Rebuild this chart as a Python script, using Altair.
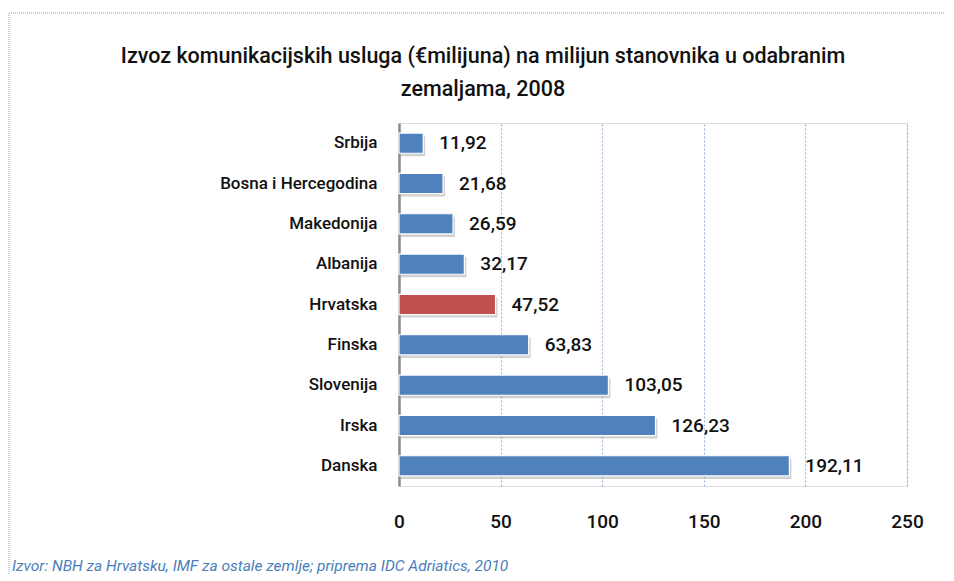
import altair as alt
import pandas as pd

countries = ["Srbija", "Bosna i Hercegodina", "Makedonija", "Albanija", "Hrvatska",
             "Finska", "Slovenija", "Irska", "Danska"]
values = [11.92, 21.68, 26.59, 32.17, 47.52, 63.83, 103.05, 126.23, 192.11]
highlight = "Hrvatska"
x_ticks = [0, 50, 100, 150, 200, 250]
title_lines = ["Izvoz komunikacijskih usluga (€milijuna) na milijun stanovnika u odabranim",
               "zemaljama, 2008"]
source_note = "Izvor: NBH za Hrvatsku,  IMF  za ostale zemlje; priprema IDC Adriatics, 2010"

FONT = "Roboto"

df = pd.DataFrame({"country": countries, "value": values})

y_enc = alt.Y("country:N", sort=countries,
              scale=alt.Scale(paddingInner=0.5, paddingOuter=0.25),
              axis=alt.Axis(title=None, labelFont=FONT, labelFontSize=17, labelColor="#111",
                            labelFontWeight=500, labelPadding=22, labelLimit=0, ticks=False,
                            domain=True, domainColor="#8a8a8a", domainWidth=2.5, grid=False))
x_enc = alt.X("value:Q", scale=alt.Scale(domain=[0, 250], nice=False),
              axis=alt.Axis(title=None, values=x_ticks, labelFont=FONT, labelFontSize=19,
                            labelFontWeight=500, labelColor="#111", labelPadding=26,
                            labelFlush=False,
                            ticks=False, domain=False, grid=True, gridColor="#9bb7dc",
                            gridDash=[2, 2], gridWidth=1.2))

base = alt.Chart(df)

shadow = base.mark_bar(color="#9a9a9a", opacity=0.45, xOffset=2, yOffset=3).encode(
    x=x_enc, y=y_enc)

bars = base.mark_bar(stroke="white", strokeWidth=1.2).encode(
    x="value:Q",
    y=alt.Y("country:N", sort=countries),
    color=alt.condition(alt.datum.country == highlight, alt.value("#C0504D"), alt.value("#4F81BD")),
)

labels = base.transform_calculate(
    lbl="replace(format(datum.value, '.2f'), '.', ',')"
).mark_text(align="left", baseline="middle", dx=16, font=FONT, fontSize=19,
            fontWeight=500, color="#111").encode(
    x="value:Q", y=alt.Y("country:N", sort=countries), text="lbl:N")

title = alt.Chart(pd.DataFrame({"t": ["\n".join(title_lines)]})).mark_text(
    align="center", baseline="top", lineBreak="\n", lineHeight=33, font=FONT,
    fontSize=21.5, fontWeight=500, color="#111").encode(
    x=alt.value(84), y=alt.value(-77), text="t:N")

src = alt.Chart(pd.DataFrame({"t": [source_note]})).mark_text(
    align="left", baseline="middle", font=FONT, fontSize=15.5, fontStyle="italic",
    color="#4a7ebb").encode(x=alt.value(-387), y=alt.value(443), text="t:N")

frame_df = pd.DataFrame({"k": [0]})
frame_top = alt.Chart(frame_df).mark_rule(color="#a9c1e0", strokeDash=[1, 1], strokeWidth=1.5).encode(
    x=alt.value(-390), x2=alt.value(560), y=alt.value(-110))
frame_left = alt.Chart(frame_df).mark_rule(color="#a9c1e0", strokeDash=[1, 1], strokeWidth=1.5).encode(
    x=alt.value(-390), y=alt.value(-110), y2=alt.value(470))

chart = alt.layer(shadow, bars, labels, title, src, frame_top, frame_left).properties(
    width=508, height=363,
    padding={"left": 391, "top": 115, "right": 38, "bottom": 88},
    autosize=alt.AutoSizeParams(type="none"),
).configure_view(stroke=None).configure(background="white")

chart.save("out.html", embed_options={"renderer": "svg", "actions": False})
